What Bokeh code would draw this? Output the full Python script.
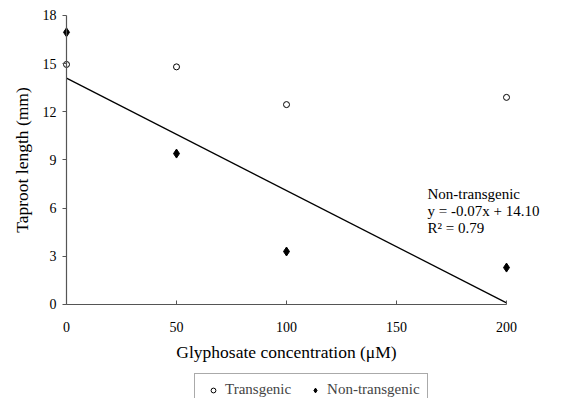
from bokeh.plotting import figure
from bokeh.models import ColumnDataSource, FixedTicker, Legend, LegendItem, Label, Range1d
from bokeh.embed import file_html
from bokeh.resources import INLINE

# data
concentration = [0, 50, 100, 200]
transgenic = [14.95, 14.8, 12.45, 12.9]
non_transgenic = [16.95, 9.4, 3.3, 2.3]
trend_slope = -0.07
trend_intercept = 14.10
x_ticks = [0, 50, 100, 150, 200]
y_ticks = [0, 3, 6, 9, 12, 15, 18]

FONT = "'Liberation Serif', 'Times New Roman', serif"

p = figure(width=555, height=398, output_backend="svg", toolbar_location=None,
           x_range=Range1d(-30, 222.27), y_range=Range1d(-5.855, 18.934),
           min_border_left=0, min_border_right=0, min_border_top=0, min_border_bottom=0)
p.outline_line_color = None
p.xgrid.visible = False
p.ygrid.visible = False
p.background_fill_color = "white"

# trend line
tx = [min(concentration), max(concentration)]
ty = [trend_intercept + trend_slope * v for v in tx]
p.line(tx, ty, line_color="black", line_width=1.3)

src = ColumnDataSource(dict(x=concentration, t=transgenic, n=non_transgenic))
r1 = p.scatter("x", "t", source=src, marker="circle", size=6, fill_color="white",
               line_color="black", line_width=1)
r2 = p.scatter("x", "n", source=src, marker="diamond", size=9, fill_color="black",
               line_color="black")

for ax in (p.xaxis[0], p.yaxis[0]):
    ax.fixed_location = 0
    ax.axis_line_color = "#555555"
    ax.axis_line_width = 1.2
    ax.major_tick_line_color = "#555555"
    ax.minor_tick_line_color = None
    ax.major_label_text_font = FONT
    ax.major_label_text_font_size = "14px"
    ax.major_label_text_color = "black"
    ax.axis_label_text_font = FONT
    ax.axis_label_text_font_size = "17.5px"
    ax.axis_label_text_font_style = "normal"
    ax.axis_label_text_color = "black"

p.xaxis.bounds = (0, 200)
p.yaxis.bounds = (0, 18)
p.xaxis.ticker = FixedTicker(ticks=x_ticks)
p.yaxis.ticker = FixedTicker(ticks=y_ticks)
p.xaxis.major_tick_in = 4
p.xaxis.major_tick_out = 0
p.yaxis.major_tick_in = 0
p.yaxis.major_tick_out = 4
p.xaxis.major_label_standoff = 18
p.yaxis.major_label_standoff = 6
p.xaxis.axis_label = "Glyphosate concentration (\u03bcM)"
p.yaxis.axis_label = "Taproot length (mm)"
p.xaxis.axis_label_standoff = 6
p.yaxis.axis_label_standoff = 8

for txt, yv in [("Non-transgenic", 6.91), ("y = -0.07x + 14.10", 5.85), ("R\u00b2 = 0.79", 4.79)]:
    p.add_layout(Label(x=164.1, y=yv, text=txt, text_font=FONT, text_font_size="15px",
                       text_baseline="middle", text_color="black"))

legend = Legend(items=[LegendItem(label="Transgenic", renderers=[r1]),
                       LegendItem(label="Non-transgenic", renderers=[r2])],
                location=(194, -8), orientation="horizontal",
                label_text_font=FONT, label_text_font_size="15px",
                border_line_color="#555555", border_line_width=1,
                glyph_width=22, glyph_height=12, label_standoff=1, spacing=13,
                padding=7, margin=0, background_fill_alpha=1)
p.add_layout(legend, "center")

open("out.html", "w").write(file_html(p, INLINE))
